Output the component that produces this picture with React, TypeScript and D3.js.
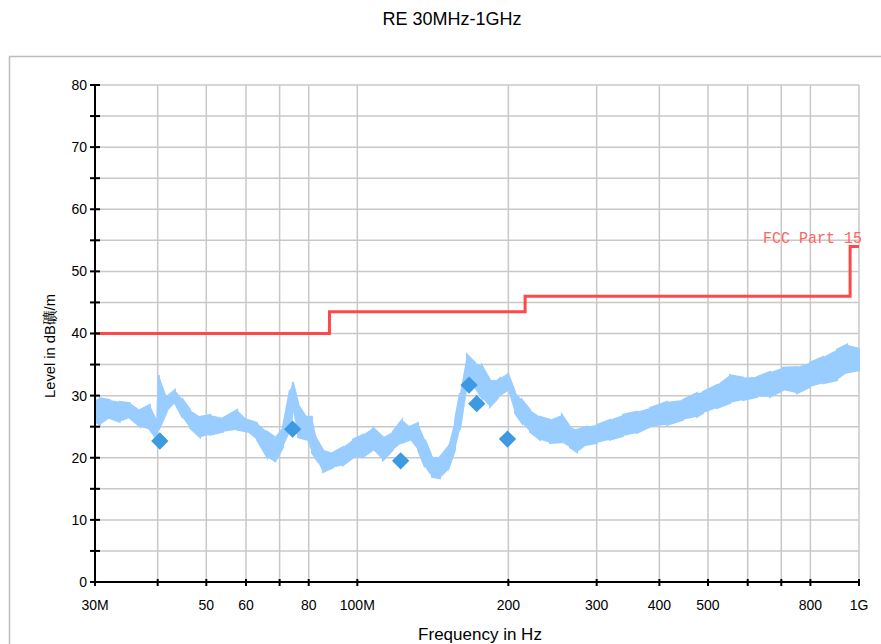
import { useEffect, useRef } from 'react';
import * as d3 from 'd3';

// measured trace, read as low/high envelope (MHz, dB)
const traceFreq = [30.0, 30.7, 32.1, 33.6, 35.2, 36.9, 38.6, 39.9, 40.2, 41.7, 43.3, 44.9, 46.4, 48.6, 50.9, 54.0, 57.6, 60.3, 63.1, 66.1, 68.5, 71.1, 73.4, 74.4, 76.2, 79.4, 81.2, 83.1, 85.4, 89.4, 93.6, 98.0, 102.6, 107.5, 112.5, 117.8, 122.8, 127.4, 132.1, 136.4, 140.9, 146.1, 151.6, 156.6, 160.2, 165.4, 171.6, 177.2, 183.8, 190.7, 192.5, 199.6, 206.2, 212.9, 220.9, 231.3, 242.1, 255.8, 265.4, 274.1, 287.0, 300.4, 318.9, 338.5, 360.9, 383.2, 414.3, 445.9, 475.4, 488.7, 521.1, 553.2, 587.2, 626.2, 664.7, 705.5, 752.4, 798.6, 847.9, 904.1, 946.6, 1000];
const traceHigh = [29.3, 29.6, 29.3, 29.0, 28.8, 27.7, 28.5, 26.0, 33.3, 29.8, 30.9, 29.3, 27.7, 26.6, 26.9, 26.4, 27.7, 26.1, 25.6, 24.2, 23.3, 25.0, 30.9, 32.2, 28.8, 26.6, 26.6, 22.9, 21.3, 20.8, 21.7, 22.9, 23.7, 24.8, 23.3, 24.2, 26.1, 25.0, 25.6, 22.9, 20.1, 20.1, 21.7, 26.1, 30.4, 36.6, 35.3, 34.8, 32.5, 32.5, 32.8, 33.6, 30.6, 29.3, 27.7, 26.6, 26.1, 26.9, 25.0, 24.5, 25.0, 25.3, 26.1, 26.9, 27.4, 28.0, 29.0, 29.3, 30.4, 30.6, 31.7, 33.3, 32.9, 33.0, 33.8, 34.5, 34.6, 35.3, 36.2, 37.4, 38.2, 37.7];
const traceLow = [25.8, 25.3, 26.4, 25.8, 26.4, 25.0, 24.5, 22.9, 24.5, 27.4, 28.8, 26.4, 24.8, 23.3, 23.7, 24.2, 24.5, 24.2, 22.9, 20.1, 19.3, 21.7, 24.2, 27.7, 23.3, 22.9, 20.8, 19.6, 17.7, 18.4, 18.8, 20.0, 20.1, 21.3, 19.6, 21.3, 22.4, 22.9, 21.3, 18.5, 16.9, 16.7, 18.0, 21.3, 24.5, 32.0, 31.4, 29.6, 28.2, 29.6, 30.1, 30.9, 27.2, 25.6, 24.2, 22.9, 22.4, 22.5, 21.7, 20.9, 22.1, 22.4, 22.9, 23.5, 24.0, 25.0, 25.3, 26.1, 26.6, 27.2, 28.0, 28.8, 29.3, 29.8, 29.8, 30.9, 30.4, 31.4, 32.0, 32.5, 33.7, 34.1];

// peak markers
const markerFreq = [40.4, 74.3, 122, 167, 173, 199.2];
const markerLevel = [22.7, 24.6, 19.5, 31.7, 28.7, 23.0];

// FCC Part 15 limit
const limitFreq = [30, 88, 88, 216, 216, 960, 960, 1000];
const limitLevel = [40, 40, 43.5, 43.5, 46, 46, 54, 54];

const gridFreq = [30, 40, 50, 60, 70, 80, 100, 200, 300, 400, 500, 600, 700, 800, 1000];
const labelFreq = [30, 50, 60, 80, 100, 200, 300, 400, 500, 800, 1000];
const labelText = ['30M', '50', '60', '80', '100M', '200', '300', '400', '500', '800', '1G'];
const yGrid = [0, 5, 10, 15, 20, 25, 30, 35, 40, 45, 50, 55, 60, 65, 70, 75, 80];
const yLabels = [0, 10, 20, 30, 40, 50, 60, 70, 80];

const W = 881;
const H = 644;
const font = 'Arial, "Liberation Sans", sans-serif';

const App = () => {
  const ref = useRef<SVGSVGElement>(null);

  useEffect(() => {
    if (!ref.current) return;
    const svg = d3.select(ref.current);
    svg.selectAll('*').remove();

    const x = d3.scaleLog().domain([30, 1000]).range([95, 859]);
    const y = d3.scaleLinear().domain([0, 80]).range([582, 85]);

    // title
    svg.append('text')
      .attr('x', 452).attr('y', 25)
      .attr('text-anchor', 'middle')
      .style('font-family', font).style('font-size', '18px')
      .text('RE 30MHz-1GHz');

    // outer frame
    svg.append('rect')
      .attr('x', 9.5).attr('y', 56.5)
      .attr('width', 900).attr('height', 700)
      .attr('fill', 'white')
      .attr('stroke', '#bdbdbd').attr('stroke-width', 1.5);

    // grid
    const grid = svg.append('g').attr('stroke', '#c8c8c8').attr('stroke-width', 1.5);
    grid.selectAll('.gy').data(yGrid.filter(d => d > 0)).enter().append('line')
      .attr('x1', x(30)).attr('x2', x(1000))
      .attr('y1', d => y(d)).attr('y2', d => y(d));
    grid.selectAll('.gx').data(gridFreq.filter(d => d > 30)).enter().append('line')
      .attr('x1', d => x(d)).attr('x2', d => x(d))
      .attr('y1', y(0)).attr('y2', y(80));

    // measured trace: filled band + zigzag
    const idx = d3.range(traceFreq.length);
    svg.append('path')
      .attr('d', d3.area<number>()
        .x(i => x(traceFreq[i]))
        .y0(i => y(traceLow[i]))
        .y1(i => y(traceHigh[i]))(idx))
      .attr('fill', '#99ccff');
    const zig: [number, number][] = [];
    idx.forEach(i => {
      const a = i % 2 === 0 ? traceHigh[i] : traceLow[i];
      const b = i % 2 === 0 ? traceLow[i] : traceHigh[i];
      zig.push([x(traceFreq[i]), y(a)]);
      zig.push([x(traceFreq[i]), y(b)]);
    });
    svg.append('path')
      .attr('d', d3.line()(zig))
      .attr('fill', 'none')
      .attr('stroke', '#99ccff')
      .attr('stroke-width', 2);

    // limit line
    svg.append('path')
      .attr('d', d3.line<number>()
        .x(i => x(limitFreq[i]))
        .y(i => y(limitLevel[i]))(d3.range(limitFreq.length)))
      .attr('fill', 'none')
      .attr('stroke', '#ff4848')
      .attr('stroke-width', 3);
    svg.append('text')
      .attr('x', 763).attr('y', 243)
      .attr('fill', '#ff6464')
      .attr('textLength', 99).attr('lengthAdjust', 'spacingAndGlyphs')
      .style('font-family', '"Liberation Mono", "DejaVu Sans Mono", monospace')
      .style('font-size', '17px')
      .text('FCC Part 15');

    // markers
    const diamond = d3.symbol().type(d3.symbolSquare).size(150);
    svg.selectAll('.mk').data(d3.range(markerFreq.length)).enter().append('path')
      .attr('d', diamond)
      .attr('transform', i => `translate(${x(markerFreq[i])},${y(markerLevel[i])}) rotate(45)`)
      .attr('fill', '#3d9ae0');

    // axes
    const axis = svg.append('g').attr('stroke', '#000').attr('stroke-width', 2);
    axis.append('line').attr('x1', x(30)).attr('x2', x(30)).attr('y1', y(0)).attr('y2', y(80));
    axis.append('line').attr('x1', x(30)).attr('x2', x(1000)).attr('y1', y(0)).attr('y2', y(0));
    axis.selectAll('.ty').data(yGrid).enter().append('line')
      .attr('x1', x(30) - 5).attr('x2', x(30) + 5)
      .attr('y1', d => y(d)).attr('y2', d => y(d));
    axis.selectAll('.tx').data(gridFreq).enter().append('line')
      .attr('x1', d => x(d)).attr('x2', d => x(d))
      .attr('y1', y(0) - 3).attr('y2', y(0) + 4);

    svg.selectAll('.ly').data(yLabels).enter().append('text')
      .attr('x', 87).attr('y', d => y(d))
      .attr('dy', '0.35em')
      .attr('text-anchor', 'end')
      .style('font-family', font).style('font-size', '14px')
      .text(d => String(d));
    svg.selectAll('.lx').data(d3.range(labelFreq.length)).enter().append('text')
      .attr('x', i => x(labelFreq[i])).attr('y', 610)
      .attr('text-anchor', 'middle')
      .style('font-family', font).style('font-size', '14px')
      .text(i => labelText[i]);

    svg.append('text')
      .attr('x', 480).attr('y', 640)
      .attr('text-anchor', 'middle')
      .style('font-family', font).style('font-size', '17px')
      .text('Frequency in Hz');
    svg.append('text')
      .attr('transform', 'translate(55,346) rotate(-90)')
      .attr('text-anchor', 'middle')
      .attr('textLength', 104).attr('lengthAdjust', 'spacingAndGlyphs')
      .style('font-family', font).style('font-size', '15px')
      .text('Level in dB礦/m');
  }, []);

  return (
    <svg ref={ref} width={W} height={H}
      style={{ position: 'absolute', left: 0, top: 0, background: 'white' }} />
  );
};

export default App;
